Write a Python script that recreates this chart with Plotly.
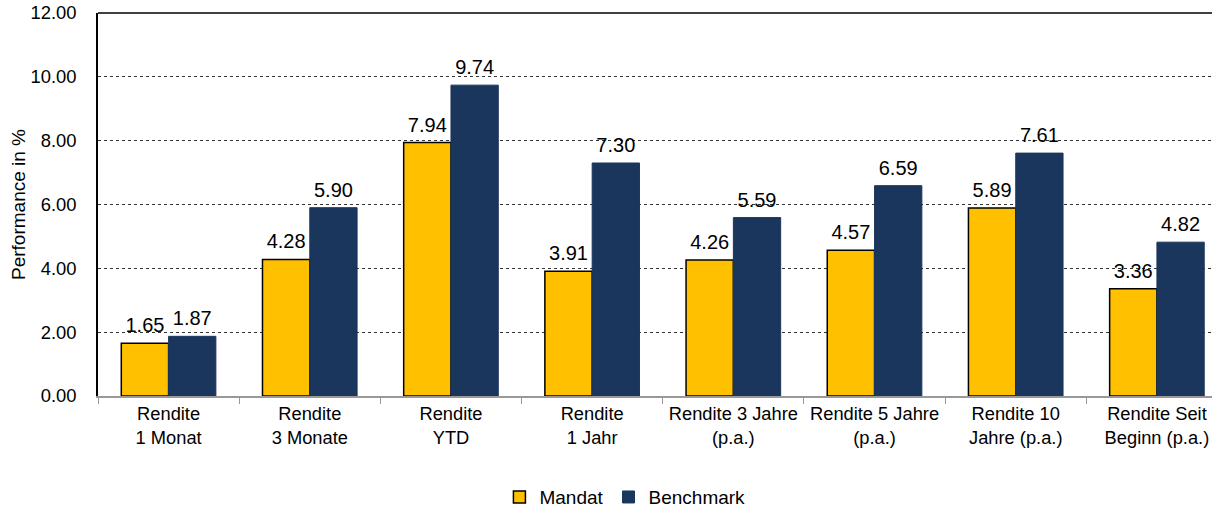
import plotly.graph_objects as go

categories = ["Rendite<br>1 Monat", "Rendite<br>3 Monate", "Rendite<br>YTD", "Rendite<br>1 Jahr",
              "Rendite 3 Jahre<br>(p.a.)", "Rendite 5 Jahre<br>(p.a.)", "Rendite 10<br>Jahre (p.a.)",
              "Rendite Seit<br>Beginn (p.a.)"]
mandat = [1.65, 4.28, 7.94, 3.91, 4.26, 4.57, 5.89, 3.36]
benchmark = [1.87, 5.90, 9.74, 7.30, 5.59, 6.59, 7.61, 4.82]
y_ticks = [0, 2, 4, 6, 8, 10, 12]

FONT = "Liberation Sans, Arial, sans-serif"
GAP = 0.33

fig = go.Figure()
fig.add_trace(go.Bar(
    name="Mandat", x=categories, y=mandat, offsetgroup="m",
    marker=dict(color="#FFC000", line=dict(color="#000000", width=1.5)),
))
fig.add_trace(go.Bar(
    name="Benchmark", x=categories, y=benchmark, offsetgroup="b",
    marker=dict(color="#1B365D", line=dict(color="#1B365D", width=1)),
))
# value labels, grouped like the bars
for name, vals in (("m", mandat), ("b", benchmark)):
    fig.add_trace(go.Scatter(
        x=categories, y=vals, mode="markers+text", offsetgroup=name,
        marker=dict(size=8, opacity=0), showlegend=False, hoverinfo="skip",
        text=[f"{v:.2f}" for v in vals], textposition="top center",
        textfont=dict(size=20, color="#000000", family=FONT), cliponaxis=False,
    ))

fig.update_layout(
    width=1212, height=509,
    margin=dict(l=98, r=0, t=13, b=113, autoexpand=False),
    paper_bgcolor="white", plot_bgcolor="white",
    barmode="group", bargap=GAP, bargroupgap=0,
    scattermode="group", scattergap=GAP,
    font=dict(family=FONT, size=18, color="#000000"),
    showlegend=True,
    legend=dict(orientation="h", x=0.473, xanchor="center", y=-0.264, yanchor="middle",
                font=dict(size=19), itemwidth=30, tracegroupgap=0),
    xaxis=dict(
        type="category", range=[-0.5, 7.39], automargin=False,
        showline=True, linecolor="#999999", linewidth=1.5,
        ticks="outside", tickson="boundaries", ticklen=6, tickcolor="#999999",
        tickfont=dict(size=18.3), showgrid=False,
    ),
    yaxis=dict(
        range=[0, 12], tickvals=y_ticks, tickformat=".2f", automargin=False,
        showline=True, linecolor="#000000", linewidth=1.5,
        showgrid=True, gridcolor="#333333", griddash="dot", gridwidth=1,
        ticks="", ticklabelstandoff=16, tickfont=dict(size=18.4),
        title=dict(text="Performance in %", font=dict(size=19), standoff=0),
        zeroline=False,
    ),
    shapes=[dict(type="line", xref="paper", yref="paper", x0=0, x1=1, y0=1, y1=1,
                 line=dict(color="#000000", width=1.5))],
)

fig.write_html("out.html", config={"displayModeBar": False},
               post_script="document.body.style.margin='0';")
